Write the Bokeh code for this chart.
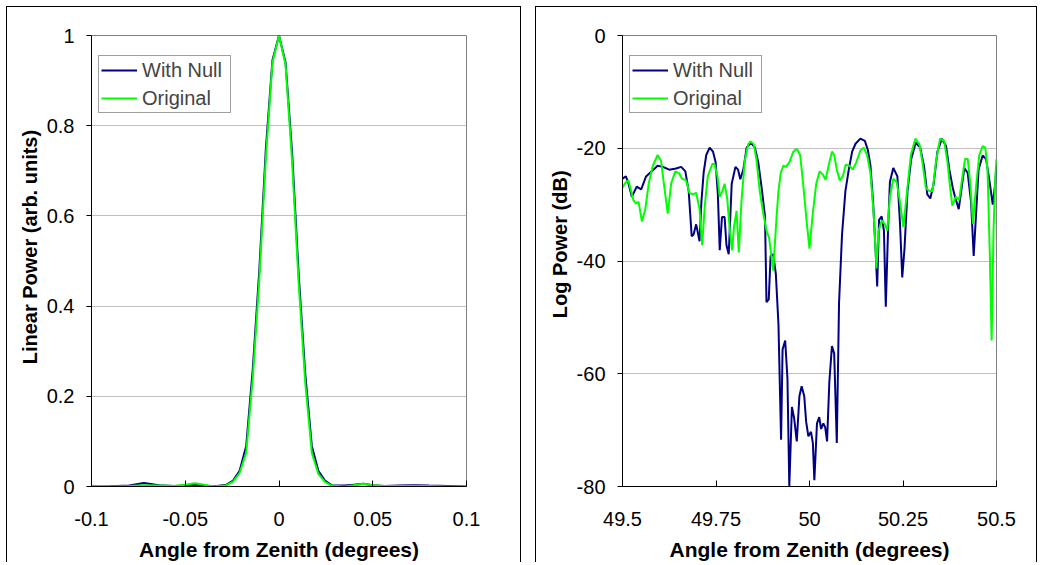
from bokeh.plotting import figure
from bokeh.layouts import row
from bokeh.models import FixedTicker, Legend, LegendItem, Range1d
from bokeh.embed import file_html
from bokeh.resources import INLINE

# ---------------- data: linear panel ----------------
lin_x = [-0.1, -0.09, -0.08, -0.072, -0.064, -0.056, -0.05, -0.045, -0.04, -0.035,
         -0.028, -0.0245, -0.021, -0.0175, -0.014, -0.0105, -0.007, -0.0035, 0.0,
         0.0035, 0.007, 0.0105, 0.014, 0.0175, 0.021, 0.0245, 0.028, 0.035, 0.04,
         0.045, 0.05, 0.056, 0.064, 0.072, 0.08, 0.09, 0.1]
lin_null = [0.0, 0.0005, 0.002, 0.008, 0.003, 0.001, 0.002, 0.004, 0.002, 0.0,
            0.004, 0.013, 0.035, 0.09, 0.26, 0.48, 0.75, 0.945, 1.0,
            0.94, 0.74, 0.47, 0.25, 0.09, 0.035, 0.013, 0.003, 0.002, 0.004,
            0.006, 0.003, 0.001, 0.002, 0.003, 0.002, 0.001, 0.0]
lin_orig = [0.0, 0.0, 0.001, 0.003, 0.002, 0.001, 0.004, 0.007, 0.004, 0.0,
            0.003, 0.011, 0.03, 0.075, 0.24, 0.46, 0.73, 0.94, 1.0,
            0.935, 0.72, 0.45, 0.23, 0.075, 0.028, 0.01, 0.002, 0.0, 0.003,
            0.006, 0.003, 0.001, 0.001, 0.001, 0.001, 0.0, 0.0]

# ---------------- data: log panel ----------------
log_null_x = [49.5, 49.509, 49.515, 49.525, 49.538, 49.55, 49.563, 49.576, 49.594, 49.608,
              49.625, 49.643, 49.657, 49.668, 49.677, 49.685, 49.69, 49.697, 49.706, 49.711,
              49.717, 49.724, 49.733, 49.742, 49.749, 49.755, 49.76, 49.766, 49.773, 49.778,
              49.784, 49.792, 49.802, 49.809, 49.815, 49.823, 49.832, 49.843, 49.854, 49.863,
              49.872, 49.881, 49.885, 49.891, 49.896, 49.903, 49.91, 49.917, 49.924, 49.928,
              49.935, 49.941, 49.946, 49.953, 49.959, 49.966, 49.973, 49.979, 49.986, 49.991,
              49.997, 50.004, 50.009, 50.013, 50.02, 50.026, 50.031, 50.037, 50.042, 50.047,
              50.053, 50.06, 50.066, 50.073, 50.079, 50.087, 50.096, 50.105, 50.114, 50.123,
              50.136, 50.148, 50.156, 50.163, 50.17, 50.177, 50.181, 50.186, 50.193, 50.199,
              50.204, 50.21, 50.215, 50.224, 50.235, 50.242, 50.248, 50.254, 50.262, 50.272,
              50.284, 50.296, 50.306, 50.315, 50.323, 50.332, 50.342, 50.354, 50.365, 50.374,
              50.383, 50.389, 50.399, 50.405, 50.414, 50.423, 50.432, 50.439, 50.445, 50.452,
              50.463, 50.472, 50.481, 50.49, 50.497, 50.5]
log_null_y = [-25.4, -25.0, -26.0, -28.6, -26.8, -27.3, -25.0, -24.2, -23.1, -23.3,
              -23.8, -23.6, -23.3, -24.1, -27.6, -35.6, -35.3, -33.5, -36.5, -29.5,
              -24.3, -21.2, -19.9, -20.6, -22.5, -28.2, -38.1, -32.2, -32.2, -37.2,
              -38.8, -26.3, -23.3, -23.8, -25.5, -23.8, -19.9, -19.0, -19.9, -22.5,
              -27.0, -32.1, -47.3, -46.8, -39.1, -38.8, -42.3, -51.2, -71.7, -55.7,
              -54.1, -60.8, -80.0, -65.9, -67.9, -72.0, -64.0, -62.2, -64.0, -68.5,
              -71.1, -70.3, -72.3, -78.9, -68.8, -67.7, -69.8, -68.8, -69.5, -72.0,
              -61.5, -55.1, -56.4, -72.3, -47.4, -35.3, -27.6, -23.8, -20.6, -19.2,
              -18.3, -18.7, -20.3, -23.1, -29.5, -38.5, -44.5, -32.7, -32.1, -34.6,
              -48.1, -34.6, -26.0, -23.5, -25.0, -33.4, -42.9, -37.8, -27.6, -21.9,
              -19.0, -19.9, -23.1, -28.2, -28.9, -26.3, -20.6, -18.3, -19.6, -23.8,
              -27.0, -28.6, -30.8, -27.9, -23.5, -24.4, -29.5, -39.1, -32.1, -23.8,
              -21.3, -21.9, -25.7, -30.0, -26.0, -23.0]

log_orig_x = [49.5, 49.509, 49.516, 49.522, 49.529, 49.536, 49.543, 49.552, 49.561, 49.57,
              49.581, 49.594, 49.603, 49.612, 49.621, 49.63, 49.641, 49.651, 49.659, 49.67,
              49.679, 49.688, 49.697, 49.706, 49.713, 49.72, 49.728, 49.74, 49.746, 49.754,
              49.76, 49.767, 49.773, 49.78, 49.787, 49.793, 49.798, 49.805, 49.811, 49.818,
              49.827, 49.836, 49.842, 49.851, 49.858, 49.867, 49.876, 49.885, 49.892, 49.903,
              49.912, 49.917, 49.923, 49.93, 49.937, 49.946, 49.957, 49.966, 49.975, 49.983,
              49.993, 50.0, 50.009, 50.018, 50.027, 50.036, 50.043, 50.051, 50.06, 50.066,
              50.073, 50.081, 50.089, 50.097, 50.107, 50.116, 50.125, 50.136, 50.145, 50.154,
              50.163, 50.172, 50.179, 50.185, 50.193, 50.201, 50.208, 50.215, 50.224, 50.233,
              50.242, 50.251, 50.26, 50.271, 50.283, 50.294, 50.302, 50.311, 50.32, 50.329,
              50.338, 50.349, 50.36, 50.369, 50.376, 50.382, 50.391, 50.4, 50.409, 50.416,
              50.423, 50.43, 50.437, 50.445, 50.454, 50.463, 50.47, 50.476, 50.482, 50.487,
              50.492, 50.497, 50.5]
log_orig_y = [-27.0, -26.0, -25.7, -27.3, -29.2, -29.8, -29.5, -33.0, -30.8, -26.3,
              -23.1, -21.2, -22.2, -27.0, -31.6, -26.3, -24.1, -24.4, -25.4, -25.7,
              -27.9, -28.2, -27.9, -30.8, -37.2, -30.2, -25.0, -22.8, -22.8, -25.0,
              -28.6, -27.6, -26.3, -28.9, -34.6, -38.1, -34.0, -31.1, -38.5, -29.5,
              -22.2, -19.3, -18.8, -19.3, -21.9, -27.6, -31.4, -34.6, -35.9, -41.7,
              -32.1, -27.6, -24.4, -23.1, -23.3, -22.5, -20.6, -20.1, -21.2, -26.3,
              -33.4, -37.8, -31.4, -26.3, -24.1, -24.7, -25.6, -23.1, -20.6, -21.2,
              -23.8, -25.7, -25.0, -22.9, -23.1, -23.8, -22.5, -20.4, -19.9, -21.2,
              -24.4, -32.1, -41.3, -34.6, -32.8, -33.4, -34.6, -28.6, -25.4, -26.0,
              -29.5, -34.0, -28.2, -21.2, -18.3, -19.3, -22.5, -27.0, -27.6, -27.6,
              -22.5, -18.3, -18.7, -22.5, -27.0, -30.2, -28.6, -29.2, -25.0, -21.9,
              -21.9, -26.3, -33.4, -27.0, -21.2, -19.6, -19.9, -23.8, -38.5, -54.1,
              -34.6, -25.0, -21.9]

lin_xticks = [-0.1, -0.05, 0, 0.05, 0.1]
lin_xlabels = ["-0.1", "-0.05", "0", "0.05", "0.1"]
lin_yticks = [0, 0.2, 0.4, 0.6, 0.8, 1]
lin_ylabels = ["0", "0.2", "0.4", "0.6", "0.8", "1"]
log_xticks = [49.5, 49.75, 50, 50.25, 50.5]
log_xlabels = ["49.5", "49.75", "50", "50.25", "50.5"]
log_yticks = [-80, -60, -40, -20, 0]
log_ylabels = ["-80", "-60", "-40", "-20", "0"]

NAVY = "#000080"
GREEN = "#00FF00"
FONT = "Liberation Sans"
NBSP = "\u00a0"


def style(p, xticks, xlabels, yticks, ylabels, xlabel, ylabel):
    p.xaxis.ticker = FixedTicker(ticks=xticks)
    p.yaxis.ticker = FixedTicker(ticks=yticks)
    p.xaxis.major_label_overrides = {t: l for t, l in zip(xticks, xlabels)}
    p.yaxis.major_label_overrides = {t: l for t, l in zip(yticks, ylabels)}
    for ax in (p.xaxis, p.yaxis):
        ax.major_label_text_font = FONT
        ax.major_label_text_font_size = "20px"
        ax.major_label_text_color = "black"
        ax.axis_label_text_font = FONT
        ax.axis_label_text_font_style = "bold"
        ax.axis_label_text_color = "black"
        ax.axis_line_color = "black"
        ax.major_tick_line_color = "black"
        ax.minor_tick_line_color = None
    p.xaxis.axis_label_text_font_size = "21px"
    p.yaxis.axis_label_text_font_size = "20px"
    p.xaxis.major_tick_in = 6
    p.xaxis.major_tick_out = 0
    p.yaxis.major_tick_in = 0
    p.yaxis.major_tick_out = 5
    p.xaxis.major_label_standoff = 25
    p.yaxis.major_label_standoff = 12
    p.xaxis.axis_label_standoff = 9
    p.yaxis.axis_label_standoff = 3
    p.xaxis.axis_label = xlabel
    p.yaxis.axis_label = ylabel
    p.xgrid.visible = False
    p.ygrid.grid_line_color = "#C0C0C0"
    p.outline_line_color = "#808080"
    p.background_fill_color = "white"
    p.border_fill_color = "white"


def add_legend(p, r1, r2, frame_h):
    leg = Legend(items=[LegendItem(label="With Null", renderers=[r1]),
                        LegendItem(label="Original", renderers=[r2])],
                 location=(7, frame_h - 22 - 56))
    leg.label_text_font = FONT
    leg.label_text_font_size = "20px"
    leg.label_height = 24
    leg.glyph_height = 24
    leg.glyph_width = 36
    leg.label_width = 86
    leg.label_standoff = 5
    leg.spacing = 4
    leg.padding = 2
    leg.margin = 0
    leg.border_line_color = "#404040"
    leg.border_line_width = 1
    leg.background_fill_color = "white"
    leg.background_fill_alpha = 1
    p.add_layout(leg)


panel_styles = {"border-top": "1px solid black", "border-left": "1px solid black",
                "border-right": "1px solid black"}

FRAME_H = 451

p1 = figure(width=515, height=556, output_backend="svg", toolbar_location=None,
            x_range=Range1d(-0.1, 0.1), y_range=Range1d(0, 1),
            min_border_left=84, min_border_right=56, min_border_top=28,
            min_border_bottom=556 - 28 - FRAME_H, margin=(6, 0, 0, 6))
p1.styles = panel_styles
style(p1, lin_xticks, lin_xlabels, lin_yticks, lin_ylabels,
      "Angle from Zenith (degrees)", NBSP * 5 + "Linear Power (arb. units)")
a1 = p1.line(lin_x, lin_null, line_color=NAVY, line_width=2)
b1 = p1.line(lin_x, lin_orig, line_color=GREEN, line_width=2)
add_legend(p1, a1, b1, FRAME_H)

p2 = figure(width=502, height=556, output_backend="svg", toolbar_location=None,
            x_range=Range1d(49.5, 50.5), y_range=Range1d(-80, 0),
            min_border_left=86, min_border_right=42, min_border_top=28,
            min_border_bottom=556 - 28 - FRAME_H, margin=(6, 0, 0, 14))
p2.styles = panel_styles
style(p2, log_xticks, log_xlabels, log_yticks, log_ylabels,
      "Angle from Zenith (degrees)", NBSP * 6 + "Log Power (dB)")
a2 = p2.line(log_null_x, log_null_y, line_color=NAVY, line_width=2)
b2 = p2.line(log_orig_x, log_orig_y, line_color=GREEN, line_width=2)
add_legend(p2, a2, b2, FRAME_H)

layout = row(p1, p2, spacing=0)
open("out.html", "w").write(file_html(layout, INLINE))
